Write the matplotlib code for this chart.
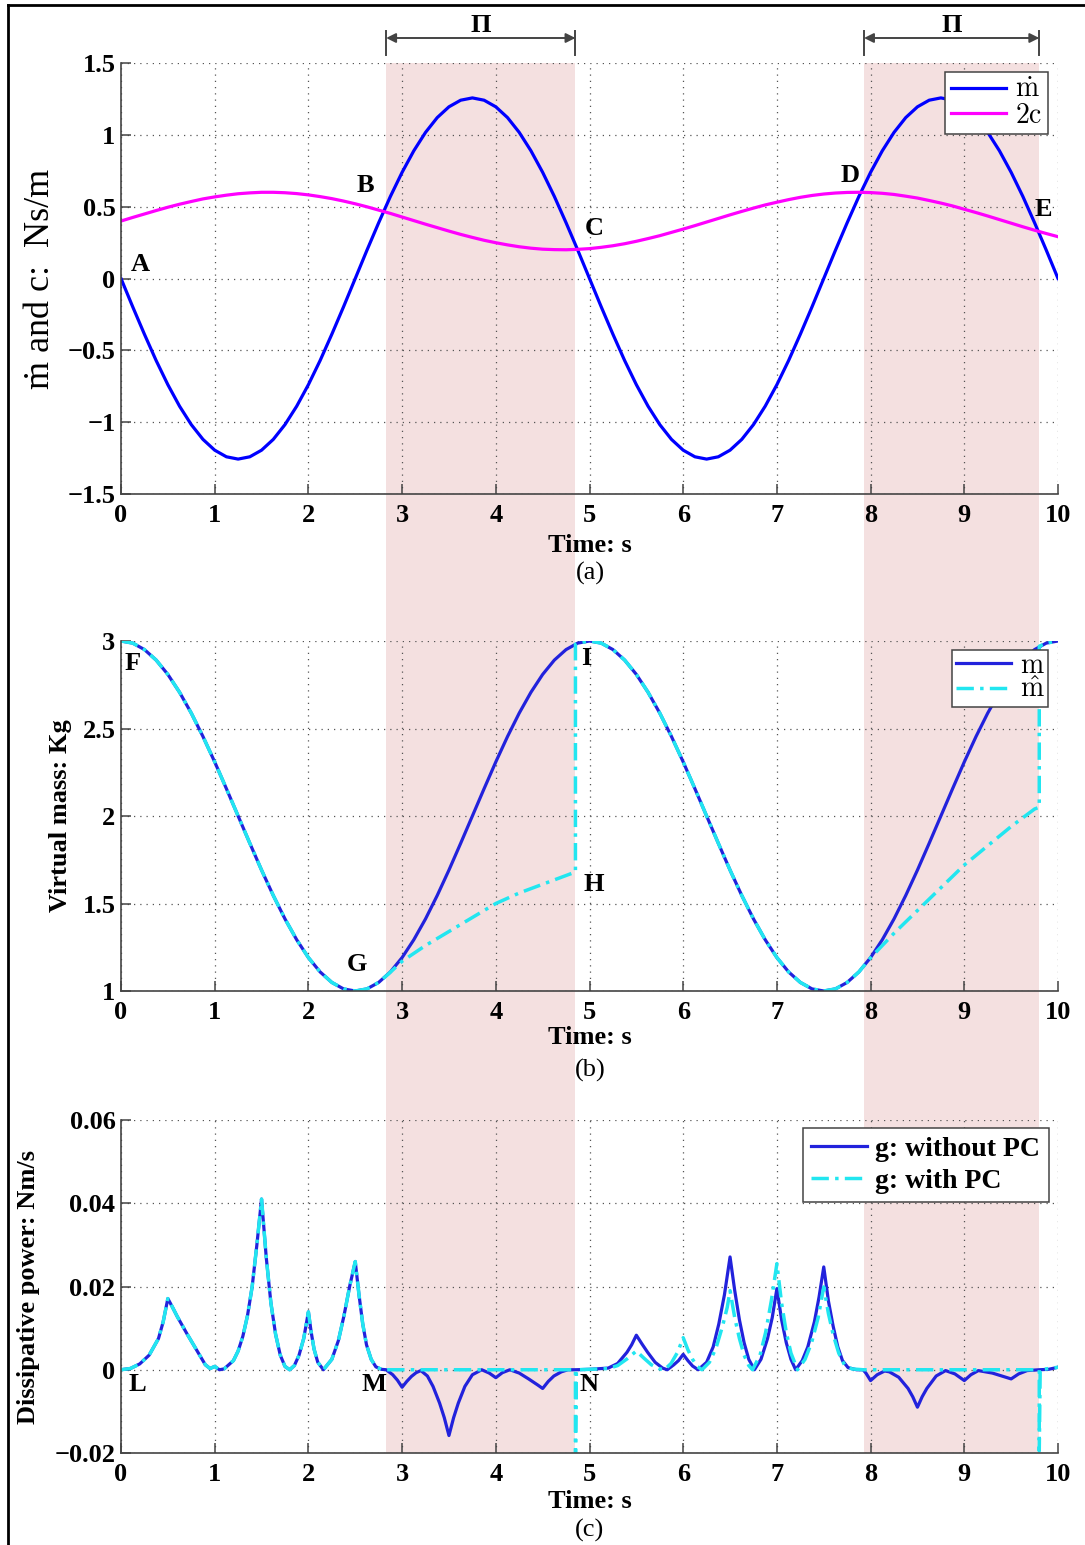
import matplotlib
matplotlib.use("Agg")
import matplotlib.pyplot as plt
import matplotlib.transforms as mtransforms
from matplotlib.patches import Rectangle
from matplotlib.lines import Line2D

plt.rcParams['font.family'] = ['Liberation Serif', 'DejaVu Serif']
plt.rcParams['mathtext.fontset'] = 'cm'

# ---------------- data ----------------
# (a) rate of virtual mass and 2c, sampled every 0.125 s
t_a = [0.000, 0.125, 0.250, 0.375, 0.500, 0.625, 0.750, 0.875, 1.000, 1.125,
       1.250, 1.375, 1.500, 1.625, 1.750, 1.875, 2.000, 2.125, 2.250, 2.375,
       2.500, 2.625, 2.750, 2.875, 3.000, 3.125, 3.250, 3.375, 3.500, 3.625,
       3.750, 3.875, 4.000, 4.125, 4.250, 4.375, 4.500, 4.625, 4.750, 4.875,
       5.000, 5.125, 5.250, 5.375, 5.500, 5.625, 5.750, 5.875, 6.000, 6.125,
       6.250, 6.375, 6.500, 6.625, 6.750, 6.875, 7.000, 7.125, 7.250, 7.375,
       7.500, 7.625, 7.750, 7.875, 8.000, 8.125, 8.250, 8.375, 8.500, 8.625,
       8.750, 8.875, 9.000, 9.125, 9.250, 9.375, 9.500, 9.625, 9.750, 9.875,
       10.000]
m_dot = [0.000, -0.197, -0.388, -0.571, -0.739, -0.889, -1.017, -1.120, -1.195, -1.241,
         -1.257, -1.241, -1.195, -1.120, -1.017, -0.889, -0.739, -0.571, -0.388, -0.197,
         0.000, 0.197, 0.388, 0.571, 0.739, 0.889, 1.017, 1.120, 1.195, 1.241,
         1.257, 1.241, 1.195, 1.120, 1.017, 0.889, 0.739, 0.571, 0.388, 0.197,
         0.000, -0.197, -0.388, -0.571, -0.739, -0.889, -1.017, -1.120, -1.195, -1.241,
         -1.257, -1.241, -1.195, -1.120, -1.017, -0.889, -0.739, -0.571, -0.388, -0.197,
         0.000, 0.197, 0.388, 0.571, 0.739, 0.889, 1.017, 1.120, 1.195, 1.241,
         1.257, 1.241, 1.195, 1.120, 1.017, 0.889, 0.739, 0.571, 0.388, 0.197,
         0.000]
two_c = [0.400, 0.425, 0.449, 0.473, 0.496, 0.517, 0.536, 0.554, 0.568, 0.580,
         0.590, 0.596, 0.600, 0.600, 0.597, 0.591, 0.582, 0.570, 0.556, 0.539,
         0.520, 0.499, 0.476, 0.453, 0.428, 0.403, 0.378, 0.354, 0.330, 0.307,
         0.286, 0.266, 0.249, 0.234, 0.221, 0.211, 0.204, 0.201, 0.200, 0.203,
         0.208, 0.217, 0.228, 0.242, 0.259, 0.278, 0.298, 0.321, 0.344, 0.368,
         0.393, 0.418, 0.443, 0.467, 0.490, 0.512, 0.531, 0.549, 0.565, 0.578,
         0.588, 0.595, 0.599, 0.600, 0.598, 0.593, 0.585, 0.573, 0.560, 0.543,
         0.525, 0.505, 0.482, 0.459, 0.435, 0.410, 0.385, 0.360, 0.336, 0.313,
         0.291]

# (b) virtual mass m (same time grid) and its PC-modified version m_hat
m_virt = [3.000, 2.988, 2.951, 2.891, 2.809, 2.707, 2.588, 2.454, 2.309, 2.156,
          2.000, 1.844, 1.691, 1.546, 1.412, 1.293, 1.191, 1.109, 1.049, 1.012,
          1.000, 1.012, 1.049, 1.109, 1.191, 1.293, 1.412, 1.546, 1.691, 1.844,
          2.000, 2.156, 2.309, 2.454, 2.588, 2.707, 2.809, 2.891, 2.951, 2.988,
          3.000, 2.988, 2.951, 2.891, 2.809, 2.707, 2.588, 2.454, 2.309, 2.156,
          2.000, 1.844, 1.691, 1.546, 1.412, 1.293, 1.191, 1.109, 1.049, 1.012,
          1.000, 1.012, 1.049, 1.109, 1.191, 1.293, 1.412, 1.546, 1.691, 1.844,
          2.000, 2.156, 2.309, 2.454, 2.588, 2.707, 2.809, 2.891, 2.951, 2.988,
          3.000]
t_mhat = [0.000, 0.125, 0.250, 0.375, 0.500, 0.625, 0.750, 0.875, 1.000, 1.125,
          1.250, 1.375, 1.500, 1.625, 1.750, 1.875, 2.000, 2.125, 2.250, 2.375,
          2.500, 2.625, 2.750, 2.860, 3.000, 3.250, 3.500, 3.750, 4.000, 4.250,
          4.500, 4.750, 4.850, 4.850, 4.875, 5.000, 5.125, 5.250, 5.375, 5.500,
          5.625, 5.750, 5.875, 6.000, 6.125, 6.250, 6.375, 6.500, 6.625, 6.750,
          6.875, 7.000, 7.125, 7.250, 7.375, 7.500, 7.625, 7.750, 7.875, 8.000,
          8.250, 8.500, 8.750, 9.000, 9.250, 9.500, 9.750, 9.800, 9.800, 9.875,
          10.000]
m_hat = [3.000, 2.988, 2.951, 2.891, 2.809, 2.707, 2.588, 2.454, 2.309, 2.156,
         2.000, 1.844, 1.691, 1.546, 1.412, 1.293, 1.191, 1.109, 1.049, 1.012,
         1.000, 1.012, 1.049, 1.100, 1.170, 1.260, 1.340, 1.420, 1.500, 1.560,
         1.610, 1.660, 1.680, 2.982, 2.988, 3.000, 2.988, 2.951, 2.891, 2.809,
         2.707, 2.588, 2.454, 2.309, 2.156, 2.000, 1.844, 1.691, 1.546, 1.412,
         1.293, 1.191, 1.109, 1.049, 1.012, 1.000, 1.012, 1.049, 1.109, 1.190,
         1.330, 1.460, 1.590, 1.720, 1.830, 1.940, 2.040, 2.050, 2.970, 2.988,
         3.000]

# (c) dissipative power: part shared by both runs (before first PC interval)
t_g_start = [0.00, 0.10, 0.20, 0.30, 0.40, 0.45, 0.50, 0.55, 0.60, 0.70,
             0.80, 0.90, 0.95, 1.00, 1.05, 1.10, 1.20, 1.25, 1.30, 1.35,
             1.40, 1.45, 1.50, 1.55, 1.60, 1.65, 1.70, 1.75, 1.80, 1.85,
             1.90, 1.95, 2.00, 2.03, 2.06, 2.10, 2.16, 2.25, 2.32, 2.38,
             2.44, 2.50, 2.54, 2.58, 2.62, 2.67, 2.72, 2.78, 2.83]
g_start = [0.0000, 0.0003, 0.0014, 0.0035, 0.0075, 0.0115, 0.0171, 0.0150, 0.0128, 0.0088,
           0.0050, 0.0012, 0.0003, 0.0008, 0.0000, 0.0002, 0.0022, 0.0045, 0.0080, 0.0130,
           0.0200, 0.0300, 0.0410, 0.0270, 0.0160, 0.0085, 0.0035, 0.0008, 0.0000, 0.0010,
           0.0035, 0.0075, 0.0139, 0.0090, 0.0050, 0.0018, 0.0000, 0.0025, 0.0070, 0.0130,
           0.0200, 0.0260, 0.0180, 0.0110, 0.0060, 0.0025, 0.0007, 0.0001, 0.0000]
# without passivity control
t_g_nopc = [2.90, 2.95, 3.00, 3.05, 3.10, 3.15, 3.20, 3.27, 3.33, 3.40,
            3.45, 3.50, 3.55, 3.60, 3.67, 3.75, 3.85, 3.93, 4.00, 4.07,
            4.15, 4.25, 4.35, 4.45, 4.50, 4.56, 4.62, 4.70, 4.77, 4.85,
            5.00, 5.20, 5.30, 5.40, 5.45, 5.50, 5.56, 5.62, 5.70, 5.78,
            5.83, 5.90, 5.95, 6.00, 6.05, 6.10, 6.16, 6.25, 6.32, 6.38,
            6.44, 6.50, 6.55, 6.60, 6.65, 6.70, 6.76, 6.83, 6.90, 6.95,
            7.00, 7.05, 7.10, 7.15, 7.20, 7.27, 7.33, 7.40, 7.45, 7.50,
            7.55, 7.60, 7.65, 7.70, 7.76, 7.85, 7.92, 7.95, 8.00, 8.07,
            8.15, 8.20, 8.30, 8.40, 8.45, 8.50, 8.55, 8.60, 8.70, 8.80,
            8.90, 9.00, 9.07, 9.15, 9.30, 9.40, 9.50, 9.58, 9.67, 9.80,
            9.90, 10.00]
g_nopc = [-0.0012, -0.0025, -0.0042, -0.0028, -0.0016, -0.0007, -0.0002, -0.0015, -0.0040, -0.0080,
          -0.0115, -0.0158, -0.0115, -0.0080, -0.0040, -0.0012, 0.0000, -0.0008, -0.0019, -0.0007,
          0.0000, -0.0008, -0.0022, -0.0037, -0.0045, -0.0028, -0.0015, -0.0005, 0.0000, 0.0000,
          0.0001, 0.0004, 0.0015, 0.0042, 0.0060, 0.0083, 0.0062, 0.0042, 0.0018, 0.0004,
          0.0000, 0.0012, 0.0022, 0.0037, 0.0022, 0.0009, 0.0000, 0.0018, 0.0055, 0.0110,
          0.0180, 0.0271, 0.0190, 0.0120, 0.0065, 0.0025, 0.0000, 0.0025, 0.0075, 0.0125,
          0.0195, 0.0120, 0.0065, 0.0025, 0.0000, 0.0022, 0.0055, 0.0115, 0.0175, 0.0247,
          0.0165, 0.0105, 0.0055, 0.0022, 0.0005, 0.0000, 0.0000, -0.0008, -0.0026, -0.0012,
          -0.0003, -0.0005, -0.0018, -0.0045, -0.0065, -0.0090, -0.0065, -0.0045, -0.0015, -0.0002,
          -0.0010, -0.0026, -0.0012, -0.0002, -0.0008, -0.0015, -0.0022, -0.0010, -0.0002, 0.0000,
          0.0001, 0.0006]
# with passivity control
t_g_pc = [4.85, 4.85, 4.86, 5.00, 5.20, 5.30, 5.40, 5.50, 5.58, 5.66,
          5.75, 5.80, 5.87, 5.94, 6.00, 6.05, 6.10, 6.15, 6.20, 6.28,
          6.35, 6.42, 6.47, 6.50, 6.55, 6.60, 6.65, 6.70, 6.74, 6.82,
          6.88, 6.94, 7.00, 7.05, 7.10, 7.15, 7.22, 7.30, 7.37, 7.44,
          7.50, 7.55, 7.60, 7.66, 7.72, 7.80, 7.92, 9.80, 9.80, 9.81,
          10.00]
g_pc = [0.0000, -0.0250, 0.0000, 0.0001, 0.0003, 0.0010, 0.0026, 0.0045, 0.0028, 0.0012,
        0.0002, 0.0000, 0.0015, 0.0042, 0.0077, 0.0048, 0.0025, 0.0008, 0.0000, 0.0018,
        0.0052, 0.0105, 0.0150, 0.0190, 0.0125, 0.0075, 0.0035, 0.0010, 0.0000, 0.0035,
        0.0090, 0.0165, 0.0255, 0.0160, 0.0090, 0.0040, 0.0000, 0.0025, 0.0065, 0.0125,
        0.0199, 0.0135, 0.0085, 0.0040, 0.0012, 0.0002, 0.0000, 0.0000, -0.0195, 0.0000,
        0.0006]

# passivity-control intervals (shaded)
pc_spans = [(2.83, 4.85), (7.93, 9.80)]

x_ticks = [0, 1, 2, 3, 4, 5, 6, 7, 8, 9, 10]
yticks_a = [-1.5, -1, -0.5, 0, 0.5, 1, 1.5]
ylabels_a = ['\u22121.5', '\u22121', '\u22120.5', '0', '0.5', '1', '1.5']
yticks_b = [1, 1.5, 2, 2.5, 3]
ylabels_b = ['1', '1.5', '2', '2.5', '3']
yticks_c = [-0.02, 0, 0.02, 0.04, 0.06]
ylabels_c = ['\u22120.02', '0', '0.02', '0.04', '0.06']

# ---------------- layout ----------------
W, H = 1085, 1545
fig = plt.figure(figsize=(W / 100, H / 100), dpi=100)


def fx(px):
    return px / W


def fy(py):
    return 1 - py / H


def make_axes(top, bottom):
    ax = fig.add_axes([fx(121), fy(bottom), fx(1058) - fx(121), fy(top) - fy(bottom)])
    ax.set_facecolor('none')
    return ax


ax1 = make_axes(63, 494)
ax2 = make_axes(641, 991)
ax3 = make_axes(1120, 1453)

BLUE_A = '#0000ff'
BLUE = '#2222dc'
CYAN = '#22e6f0'
MAGENTA = '#ff00ff'
SHADE = '#f4e0e0'
DASHDOT = (5, 1.8, 1, 1.8)
TXT = dict(fontsize=19, fontweight='bold')


def style_axes(ax, yticks, ylabels, ylim):
    ax.set_xlim(0, 10)
    ax.set_ylim(*ylim)
    ax.set_xticks(x_ticks)
    ax.set_xticklabels([str(v) for v in x_ticks], fontsize=19, fontweight='bold')
    ax.set_yticks(yticks)
    ax.set_yticklabels(ylabels, fontsize=19, fontweight='bold')
    for side in ('top', 'right'):
        ax.spines[side].set_visible(False)
    for side in ('left', 'bottom'):
        ax.spines[side].set_color('#444444')
        ax.spines[side].set_linewidth(1.2)
    ax.tick_params(direction='in', length=7, width=1.1, color='#444444')
    ax.tick_params(axis='x', pad=7)
    ax.tick_params(axis='y', pad=4)
    ax.grid(True, color='#555555', linestyle=(0, (1, 4)), linewidth=0.9)
    ax.set_axisbelow(True)


def legend(ax, anchor, size, bold=False, hl=2.0, spacing=0.0, bpad=0.2):
    leg = ax.legend(loc='upper right', bbox_to_anchor=anchor, borderaxespad=0,
                    fancybox=False, framealpha=1, edgecolor='#444444',
                    handlelength=hl, handletextpad=0.3, borderpad=bpad,
                    labelspacing=spacing,
                    prop={'size': size, 'weight': 'bold' if bold else 'normal'})
    leg.get_frame().set_linewidth(1.1)
    return leg


# ---------------- (a) ----------------
style_axes(ax1, yticks_a, ylabels_a, (-1.5, 1.5))
ax1.plot(t_a, m_dot, color=BLUE_A, lw=2.3, label=r'$\dot{\mathrm{m}}$')
ax1.plot(t_a, two_c, color=MAGENTA, lw=2.3, label=r'$\mathrm{2c}$')
legend(ax1, (0.989, 0.978), 20)
for lab, (x, y) in {'A': (0.21, 0.10), 'B': (2.61, 0.65), 'C': (5.05, 0.35),
                    'D': (7.78, 0.72), 'E': (9.84, 0.48)}.items():
    ax1.text(x, y, lab, ha='center', va='center', **TXT)
ax1.set_ylabel('\u1e41 and c:  Ns/m', fontsize=26, va='center')
ax1.yaxis.set_label_coords(-0.086, 0.5)

# ---------------- (b) ----------------
style_axes(ax2, yticks_b, ylabels_b, (1, 3))
ax2.plot(t_a, m_virt, color=BLUE, lw=2.3, label=r'$\mathrm{m}$')
ax2.plot(t_mhat, m_hat, color=CYAN, lw=2.5, dashes=DASHDOT, label=r'$\hat{\mathrm{m}}$')
legend(ax2, (0.989, 0.974), 20, spacing=-0.05, bpad=0.12)
for lab, (x, y) in {'F': (0.12, 2.87), 'G': (2.52, 1.15), 'H': (5.05, 1.61),
                    'I': (4.96, 2.90)}.items():
    ax2.text(x, y, lab, ha='center', va='center', **TXT)
ax2.set_ylabel('Virtual mass: Kg', va='center', **TXT)
ax2.yaxis.set_label_coords(-0.065, 0.5)

# ---------------- (c) ----------------
style_axes(ax3, yticks_c, ylabels_c, (-0.02, 0.06))
ax3.plot(t_g_start + t_g_nopc, g_start + g_nopc, color=BLUE, lw=2.3, label='g: without PC')
ax3.plot(t_g_start + t_g_pc, g_start + g_pc, color=CYAN, lw=2.5, dashes=DASHDOT,
         label='g: with PC')
legend(ax3, (0.990, 0.976), 20, bold=True, hl=2.0, spacing=0.25, bpad=0.3)
for lab, (x, y) in {'L': (0.17, -0.0036), 'M': (2.70, -0.0036),
                    'N': (5.00, -0.0036)}.items():
    ax3.text(x, y, lab, ha='center', va='center', **TXT)
ax3.set_ylabel('Dissipative power: Nm/s', va='center', **TXT)
ax3.yaxis.set_label_coords(-0.099, 0.5)

# x labels and panel tags
for y_time, y_tag, tag in [(546, 573, '(a)'), (1038, 1070, '(b)'), (1502, 1530, '(c)')]:
    fig.text(fx(590), fy(y_time), 'Time: s', ha='center', va='center', **TXT)
    fig.text(fx(590), fy(y_tag), tag, ha='center', va='center', fontsize=19)

# shaded PC intervals across all panels, with the Pi markers on top
trans = mtransforms.blended_transform_factory(ax1.transData, fig.transFigure)
for x0, x1 in pc_spans:
    fig.add_artist(Rectangle((x0, fy(1453)), x1 - x0, fy(63) - fy(1453),
                             transform=trans, facecolor=SHADE, lw=0, zorder=-1))
    ax1.annotate('', xy=(x0, fy(38)), xytext=(x1, fy(38)), xycoords=trans,
                 textcoords=trans, annotation_clip=False,
                 arrowprops=dict(arrowstyle='<|-|>', color='#444444', lw=1.4,
                                 shrinkA=0, shrinkB=0, mutation_scale=14))
    for xx in (x0, x1):
        fig.add_artist(Line2D([xx, xx], [fy(31), fy(55)], transform=trans,
                              color='#444444', lw=1.4))
    ax1.text((x0 + x1) / 2, fy(25), '\u03a0', transform=trans,
             ha='center', va='center', **TXT)

# outer frame (left and top edges visible in the reference)
fig.add_artist(Line2D([fx(8), fx(8)], [fy(5), 0], transform=fig.transFigure, color='k', lw=2))
fig.add_artist(Line2D([fx(8), 1], [fy(5), fy(5)], transform=fig.transFigure, color='k', lw=2))

fig.savefig('out.png', dpi=100)
